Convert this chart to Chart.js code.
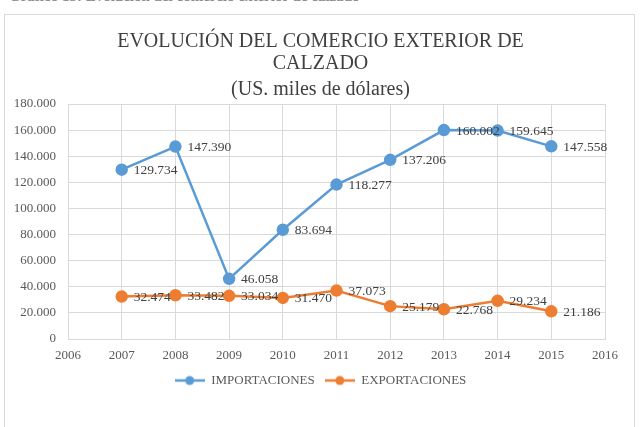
<!DOCTYPE html>
<html>
<head>
<meta charset="utf-8">
<script src="https://cdn.jsdelivr.net/npm/chart.js@4"></script>
<style>
  html, body { margin: 0; padding: 0; background: #fff; overflow: hidden; }
  #caption {
    position: absolute; left: 9px; top: -12px;
    font: bold 15px 'Liberation Serif', serif; color: #8c8c8c; white-space: nowrap;
  }
  #frame {
    position: absolute; left: 4px; top: 14px; width: 631px; height: 430px;
    border: 1px solid #d9d9d9; box-sizing: border-box;
  }
  #wrap { position: absolute; left: 0; top: 0; width: 641px; height: 427px; }
</style>
</head>
<body>
<div id="caption">Gráfico 13: Evolución del comercio exterior de calzado</div>
<div id="frame"></div>
<div id="wrap"><canvas id="chart"></canvas></div>
<script>
// datos
const years = [2007, 2008, 2009, 2010, 2011, 2012, 2013, 2014, 2015];
const importaciones = [129734, 147390, 46058, 83694, 118277, 137206, 160002, 159645, 147558];
const exportaciones = [32474, 33482, 33034, 31470, 37073, 25179, 22768, 29234, 21186];
const seriesNames = ['IMPORTACIONES', 'EXPORTACIONES'];
const seriesColors = ['#5B9BD5', '#ED7D31'];

const FONT = 'Liberation Serif';

// formato 129.734
const fmt = v => String(v).replace(/\B(?=(\d{3})+(?!\d))/g, '.');

// marcador de leyenda: línea con círculo
function legendMarker(color) {
  const c = document.createElement('canvas');
  c.width = 30; c.height = 12;
  const g = c.getContext('2d');
  g.strokeStyle = color; g.lineWidth = 2.5;
  g.beginPath(); g.moveTo(0, 6); g.lineTo(30, 6); g.stroke();
  g.fillStyle = color;
  g.beginPath(); g.arc(15, 6, 4.5, 0, Math.PI * 2); g.fill();
  return c;
}

// etiquetas de datos a la derecha de cada punto
const pointLabels = {
  id: 'pointLabels',
  afterDatasetsDraw(chart) {
    const ctx = chart.ctx;
    ctx.save();
    ctx.font = '13.5px ' + FONT;
    ctx.fillStyle = '#404040';
    ctx.textAlign = 'left';
    ctx.textBaseline = 'middle';
    chart.data.datasets.forEach((ds, i) => {
      chart.getDatasetMeta(i).data.forEach((pt, j) => {
        ctx.fillText(fmt(ds.data[j].y), pt.x + 12, pt.y + 1);
      });
    });
    ctx.restore();
  }
};

const toPoints = arr => arr.map((v, i) => ({ x: years[i], y: v }));

new Chart(document.getElementById('chart'), {
  type: 'line',
  data: {
    datasets: [
      {
        label: seriesNames[0],
        data: toPoints(importaciones),
        borderColor: seriesColors[0],
        backgroundColor: seriesColors[0],
        borderWidth: 2.5,
        pointRadius: 5,
        pointHoverRadius: 5,
        tension: 0,
      },
      {
        label: seriesNames[1],
        data: toPoints(exportaciones),
        borderColor: seriesColors[1],
        backgroundColor: seriesColors[1],
        borderWidth: 2.5,
        pointRadius: 5,
        pointHoverRadius: 5,
        tension: 0,
      },
    ],
  },
  options: {
    responsive: true,
    maintainAspectRatio: false,
    animation: false,
    layout: { padding: { left: 10, right: 10, top: 0, bottom: 30 } },
    plugins: {
      title: {
        display: true,
        text: ['EVOLUCIÓN DEL COMERCIO EXTERIOR DE', 'CALZADO'],
        color: '#404040',
        font: { family: FONT, size: 20, weight: 400, lineHeight: 1.1 },
        padding: { top: 31, bottom: 0 },
      },
      subtitle: {
        display: true,
        text: '(US. miles de dólares)',
        color: '#404040',
        font: { family: FONT, size: 20, weight: 400, lineHeight: 1.1 },
        padding: { top: 4, bottom: 3 },
      },
      legend: {
        position: 'bottom',
        labels: {
          color: '#595959',
          font: { family: FONT, size: 13 },
          usePointStyle: true,
          pointStyleWidth: 30,
          padding: 10,
          generateLabels: chart => chart.data.datasets.map((ds, i) => ({
            text: ds.label,
            pointStyle: legendMarker(seriesColors[i]),
            fillStyle: seriesColors[i],
            strokeStyle: seriesColors[i],
            lineWidth: 0,
            datasetIndex: i,
            fontColor: '#595959',
          })),
        },
      },
      tooltip: { enabled: false },
    },
    scales: {
      x: {
        type: 'linear',
        min: 2006,
        max: 2016,
        afterFit: s => { s.height = 25; },
        grid: { color: '#d9d9d9', drawTicks: false },
        border: { color: '#d9d9d9' },
        ticks: {
          stepSize: 1,
          padding: 9,
          color: '#595959',
          font: { family: FONT, size: 13 },
          callback: v => String(v),
        },
      },
      y: {
        min: 0,
        max: 180000,
        afterFit: s => { s.width = 58; },
        grid: { color: '#d9d9d9', drawTicks: false },
        border: { display: false },
        ticks: {
          stepSize: 20000,
          padding: 12,
          color: '#595959',
          font: { family: FONT, size: 13 },
          callback: v => fmt(v),
        },
      },
      // eje vacío a la derecha: reserva margen para centrar título y leyenda
      yRight: {
        position: 'right',
        min: 0,
        max: 180000,
        afterFit: s => { s.width = 26; },
        grid: { display: false },
        border: { display: false },
        ticks: { display: false },
      },
    },
  },
  plugins: [pointLabels],
});
</script>
</body>
</html>
